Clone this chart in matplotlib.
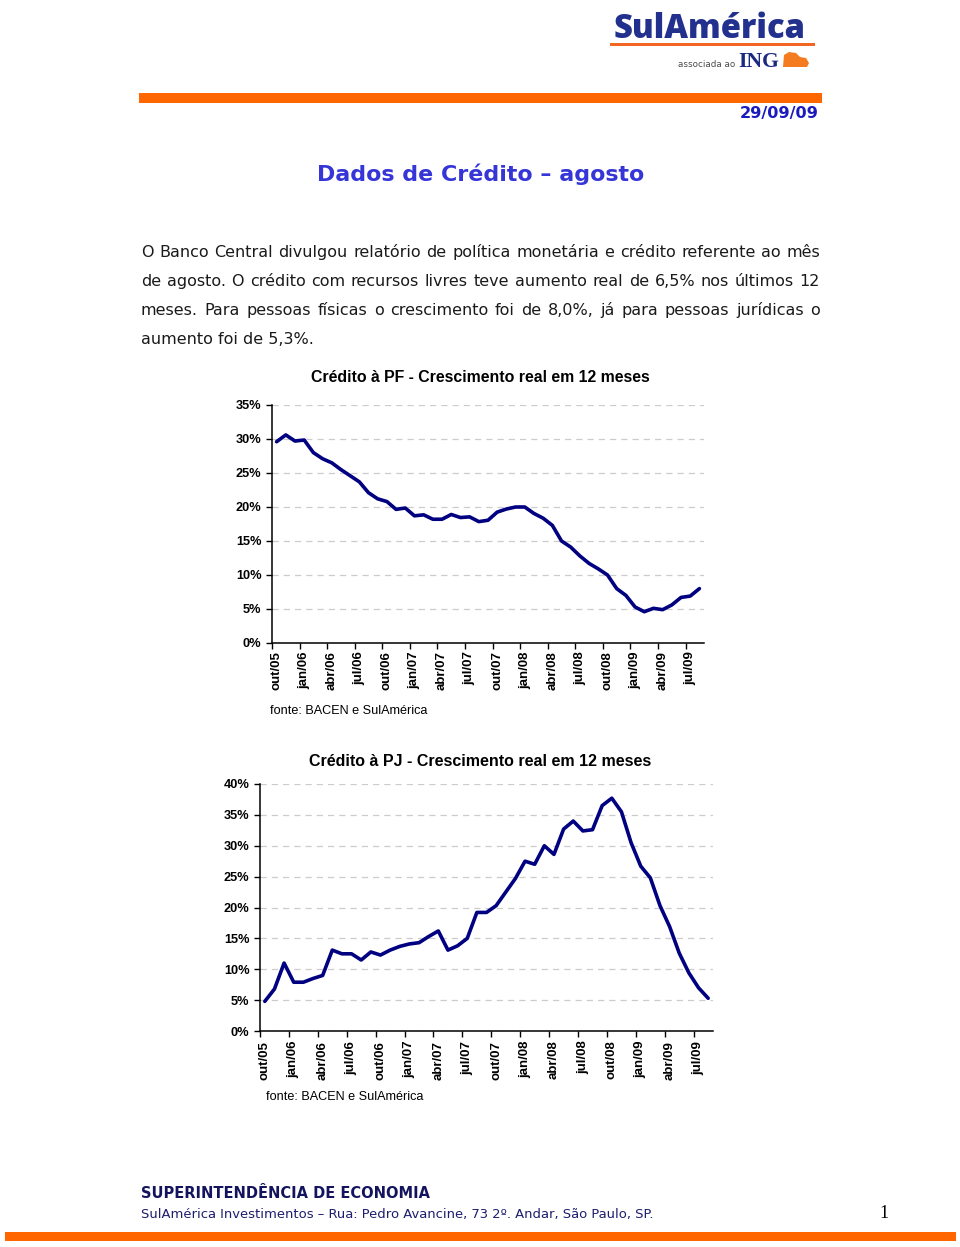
import matplotlib
matplotlib.use("Agg")
import matplotlib.pyplot as plt
from matplotlib.patches import Rectangle, Polygon
import numpy as np

# ---------------- data ----------------
month_abbr = ['jan', 'fev', 'mar', 'abr', 'mai', 'jun', 'jul', 'ago', 'set', 'out', 'nov', 'dez']
months = [f"{month_abbr[(9 + k) % 12]}/{(5 + (9 + k) // 12):02d}" for k in range(47)]  # out/05 .. ago/09

pf_growth = [29.6, 30.6, 29.7, 29.85, 28.0, 27.1, 26.5, 25.5, 24.6, 23.7,
             22.1, 21.2, 20.8, 19.65, 19.85, 18.7, 18.85, 18.2, 18.2, 18.9,
             18.45, 18.55, 17.85, 18.05, 19.25, 19.7, 20.0, 20.0, 19.05, 18.35,
             17.3, 15.0, 14.1, 12.8, 11.7, 10.9, 10.0, 8.0, 7.0, 5.3,
             4.6, 5.1, 4.9, 5.6, 6.7, 6.9, 8.0]

pj_growth = [4.8, 6.8, 11.0, 7.9, 7.9, 8.5, 9.0, 13.1, 12.5, 12.5,
             11.5, 12.8, 12.3, 13.1, 13.7, 14.1, 14.3, 15.3, 16.2, 13.1,
             13.8, 15.0, 19.2, 19.2, 20.3, 22.5, 24.7, 27.5, 27.0, 30.0,
             28.6, 32.7, 34.0, 32.4, 32.6, 36.5, 37.7, 35.5, 30.5, 26.7,
             24.8, 20.3, 16.9, 12.6, 9.4, 7.0, 5.3]

tick_labels = ['out/05', 'jan/06', 'abr/06', 'jul/06', 'out/06', 'jan/07', 'abr/07', 'jul/07',
               'out/07', 'jan/08', 'abr/08', 'jul/08', 'out/08', 'jan/09', 'abr/09', 'jul/09']

pf_title = "Crédito à PF - Crescimento real em 12 meses"
pj_title = "Crédito à PJ - Crescimento real em 12 meses"
source = "fonte: BACEN e SulAmérica"

paragraph = [
    "O Banco Central divulgou relatório de política monetária e crédito referente ao mês",
    "de agosto. O crédito com recursos livres teve aumento real de 6,5% nos últimos 12",
    "meses. Para pessoas físicas o crescimento foi de 8,0%, já para pessoas jurídicas o",
    "aumento foi de 5,3%.",
]

# ---------------- figure ----------------
W, H = 960, 1247
fig = plt.figure(figsize=(W / 100, H / 100), dpi=100)
fig.patch.set_facecolor('white')
renderer = fig.canvas.get_renderer()

ORANGE = '#ff6600'
NAVY = '#000080'


def fx(x):
    return x / W


def fy(y):
    return 1 - y / H


def text_px(x, y, s, width=None, **kw):
    t = fig.text(fx(x), fy(y), s, **kw)
    if width is not None:
        bb = t.get_window_extent(renderer)
        t.set_fontsize(t.get_fontsize() * width / bb.width)
    return t


def justify(x0, x1, y, line, **kw):
    words = line.split(' ')
    arts = [fig.text(0, 0, w, **kw) for w in words]
    widths = [a.get_window_extent(renderer).width for a in arts]
    gap = (x1 - x0 - sum(widths)) / (len(words) - 1)
    x = x0
    for a, w in zip(arts, widths):
        a.set_position((fx(x), fy(y)))
        x += w + gap


def rect_px(x0, y0, x1, y1, color):
    fig.patches.append(Rectangle((fx(x0), fy(y1)), (x1 - x0) / W, (y1 - y0) / H,
                                 transform=fig.transFigure, color=color, lw=0))


# ---------------- logo ----------------
text_px(614, 38, "SulAmérica", width=192, family='Open Sans', weight='heavy',
        fontsize=26, color='#23318e', ha='left', va='baseline')
rect_px(610, 42.5, 815, 45.5, '#f26522')
text_px(678, 67, "associada ao", width=57, family='DejaVu Sans', fontsize=7,
        color='#4a4a4a', ha='left', va='baseline')
text_px(738, 67, "ING", width=41, family='Liberation Serif', weight='bold',
        fontsize=15, color='#1b2a80', ha='left', va='baseline')
# stylised lion
lion = Polygon([(fx(783), fy(67)), (fx(784), fy(55)), (fx(789), fy(52)), (fx(796), fy(53)),
                (fx(800), fy(57)), (fx(806), fy(58)), (fx(809), fy(63)), (fx(807), fy(67))],
               closed=True, transform=fig.transFigure, color='#f47b20', lw=0)
fig.patches.append(lion)

# ---------------- header ----------------
rect_px(139, 93.3, 822, 102.7, ORANGE)
text_px(819, 118, "29/09/09", width=79, family='DejaVu Sans', weight='bold', fontsize=10,
        color='#1a1abf', ha='right', va='baseline')
text_px(481, 181, "Dados de Crédito – agosto", width=328, family='DejaVu Sans', weight='bold',
        fontsize=16, color='#3535d8', ha='center', va='baseline')

# ---------------- paragraph ----------------
base_y = 257.3
for i, line in enumerate(paragraph):
    y = base_y + 29 * i
    kw = dict(family='DejaVu Sans', fontsize=11.5, color='#1a1a1a', ha='left', va='baseline')
    if i < len(paragraph) - 1:
        justify(141, 820, y, line, **kw)
    else:
        fig.text(fx(141), fy(y), line, **kw)

# ---------------- charts ----------------
CHART_FONT = 'Liberation Sans'


def draw_chart(left, right, top, bottom, ymax, values, title, title_y, src_x, src_y, xlab_pad):
    ax = fig.add_axes([fx(left), fy(bottom), (right - left) / W, (bottom - top) / H])
    x = np.arange(len(values))
    ax.plot(x, values, color=NAVY, lw=2.6, solid_joinstyle='round', solid_capstyle='round',
            zorder=3, clip_on=False)
    ax.set_xlim(-0.5, len(values) - 0.5)
    ax.set_ylim(0, ymax)
    yt = np.arange(0, ymax + 1, 5)
    ax.set_yticks(yt)
    ax.set_yticklabels([f"{int(v)}%" for v in yt], fontfamily=CHART_FONT, fontweight='bold',
                       fontsize=9.2)
    ax.yaxis.grid(True, color='#cccccc', lw=0.9, ls=(0, (5, 4)))
    ax.set_axisbelow(True)
    pos = np.arange(0, len(values), 3)
    ax.set_xticks(pos)
    ax.set_xticklabels(tick_labels, rotation=90, fontfamily=CHART_FONT, fontweight='bold',
                       fontsize=9.5, va='top', ha='center')
    ax.set_xticks(np.arange(-0.5, len(values) - 1, 3), minor=True)
    ax.tick_params(axis='x', which='major', length=0, pad=xlab_pad)
    ax.tick_params(axis='x', which='minor', length=4, width=1, direction='out')
    ax.tick_params(axis='y', length=4, width=1, direction='out', pad=3.5)
    for s in ('top', 'right'):
        ax.spines[s].set_visible(False)
    for s in ('left', 'bottom'):
        ax.spines[s].set_linewidth(1.1)
        ax.spines[s].set_color('black')
    text_px(480, title_y, title, width=341, family=CHART_FONT,
            weight='bold', fontsize=10, color='black', ha='center', va='center')
    text_px(src_x, src_y, source, width=158, family=CHART_FONT, fontsize=9,
            color='black', ha='left', va='center')
    return ax


draw_chart(272, 704, 405, 643, 35, pf_growth, pf_title, 377, 270, 711, 6)
draw_chart(260, 713, 784, 1031, 40, pj_growth, pj_title, 762, 266, 1097, 7)

# ---------------- footer ----------------
text_px(141, 1198, "SUPERINTENDÊNCIA DE ECONOMIA", width=289, family='DejaVu Sans',
        weight='bold', fontsize=10, color='#14145e', ha='left', va='baseline')
text_px(141, 1218, "SulAmérica Investimentos – Rua: Pedro Avancine, 73 2º. Andar, São Paulo, SP.",
        width=514, family='DejaVu Sans', fontsize=9, color='#1e1e6e', ha='left', va='baseline')
text_px(884, 1218, "1", family='Liberation Serif', fontsize=13, color='black',
        ha='center', va='baseline')
rect_px(5, 1231.7, 956, 1241, ORANGE)

fig.savefig("out.png", dpi=100, facecolor='white')
